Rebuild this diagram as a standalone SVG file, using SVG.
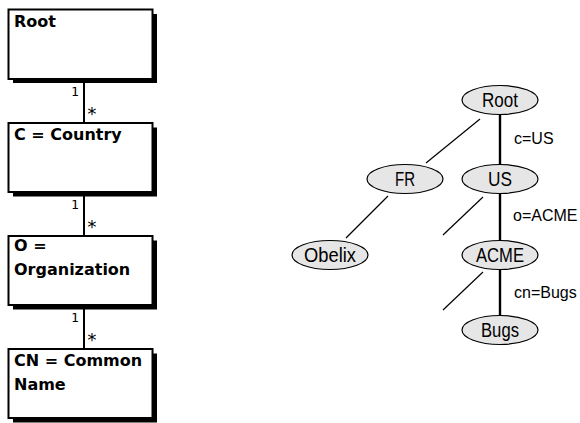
<svg xmlns="http://www.w3.org/2000/svg" width="580" height="423" viewBox="0 0 580 423">
<style>
.box{fill:#fff;stroke:#000;stroke-width:2}
.shadow{fill:#000}
.btxt{font-family:"DejaVu Sans",sans-serif;font-weight:bold;font-size:16px;fill:#000}
.mult{font-family:"DejaVu Sans Mono",monospace;font-size:13px;fill:#000}
.star{font-family:"DejaVu Sans Mono",monospace;font-size:18px;fill:#000}
.conn{stroke:#000;stroke-width:2;fill:none}
.node{fill:#e6e6e6;stroke:#000;stroke-width:1.2}
.ntxt{font-family:"Liberation Sans",sans-serif;font-size:20px;fill:#000;text-anchor:middle}
.lbl{font-family:"Liberation Sans",sans-serif;font-size:16px;fill:#000}
.thin{stroke:#000;stroke-width:1.2;fill:none}
.thick{stroke:#000;stroke-width:2.4;fill:none}
</style>
<g id="connectors-left">
<line class="conn" x1="84" y1="83" x2="84" y2="123"/>
<line class="conn" x1="84" y1="196" x2="84" y2="236"/>
<line class="conn" x1="84" y1="309" x2="84" y2="349"/>
<text class="mult" x="71" y="96">1</text>
<text class="star" x="86.5" y="120">*</text>
<text class="mult" x="71" y="209">1</text>
<text class="star" x="86.5" y="233">*</text>
<text class="mult" x="71" y="322">1</text>
<text class="star" x="86.5" y="346">*</text>
</g>
<g id="box-root">
<rect class="shadow" x="13" y="14" width="144" height="69"/>
<rect class="box" x="8.5" y="9.5" width="144" height="69.5"/>
<text class="btxt" x="14" y="27">Root</text>
</g>
<g id="box-country">
<rect class="shadow" x="13" y="127.5" width="144" height="69"/>
<rect class="box" x="8.5" y="123" width="144" height="69"/>
<text class="btxt" x="14" y="140">C = Country</text>
</g>
<g id="box-org">
<rect class="shadow" x="13" y="240.5" width="144" height="69"/>
<rect class="box" x="8.5" y="236" width="144" height="69"/>
<text class="btxt" x="14" y="251">O =</text>
<text class="btxt" x="14" y="275">Organization</text>
</g>
<g id="box-cn">
<rect class="shadow" x="13" y="353.5" width="144" height="69"/>
<rect class="box" x="8.5" y="349" width="144" height="69"/>
<text class="btxt" x="14" y="366">CN = Common</text>
<text class="btxt" x="14" y="390">Name</text>
</g>
<g id="connectors-tree">
<line class="thin" x1="480" y1="119" x2="426" y2="163"/>
<line class="thin" x1="388" y1="196" x2="346" y2="238"/>
<line class="thin" x1="483" y1="197" x2="443" y2="235"/>
<line class="thin" x1="483" y1="272" x2="443" y2="310"/>
<line class="thick" x1="500" y1="114" x2="500" y2="165"/>
<line class="thick" x1="500" y1="193" x2="500" y2="241"/>
<line class="thick" x1="500" y1="269" x2="500" y2="316"/>
<text class="lbl" x="514" y="144">c=US</text>
<text class="lbl" x="513" y="221">o=ACME</text>
<text class="lbl" x="514" y="298">cn=Bugs</text>
</g>
<g id="node-root">
<ellipse class="node" cx="500" cy="100" rx="38" ry="14.5"/>
<text class="ntxt" x="500" y="107" textLength="36" lengthAdjust="spacingAndGlyphs">Root</text>
</g>
<g id="node-fr">
<ellipse class="node" cx="405" cy="179" rx="38" ry="14.5"/>
<text class="ntxt" x="405" y="186" textLength="20" lengthAdjust="spacingAndGlyphs">FR</text>
</g>
<g id="node-us">
<ellipse class="node" cx="500" cy="179" rx="38" ry="14.5"/>
<text class="ntxt" x="500" y="186" textLength="24" lengthAdjust="spacingAndGlyphs">US</text>
</g>
<g id="node-obelix">
<ellipse class="node" cx="330" cy="255" rx="38" ry="14.5"/>
<text class="ntxt" x="330" y="262" textLength="52" lengthAdjust="spacingAndGlyphs">Obelix</text>
</g>
<g id="node-acme">
<ellipse class="node" cx="500" cy="255" rx="38" ry="14.5"/>
<text class="ntxt" x="500" y="262" textLength="48" lengthAdjust="spacingAndGlyphs">ACME</text>
</g>
<g id="node-bugs">
<ellipse class="node" cx="500" cy="330" rx="38" ry="14.5"/>
<text class="ntxt" x="500" y="337" textLength="38" lengthAdjust="spacingAndGlyphs">Bugs</text>
</g>
</svg>
